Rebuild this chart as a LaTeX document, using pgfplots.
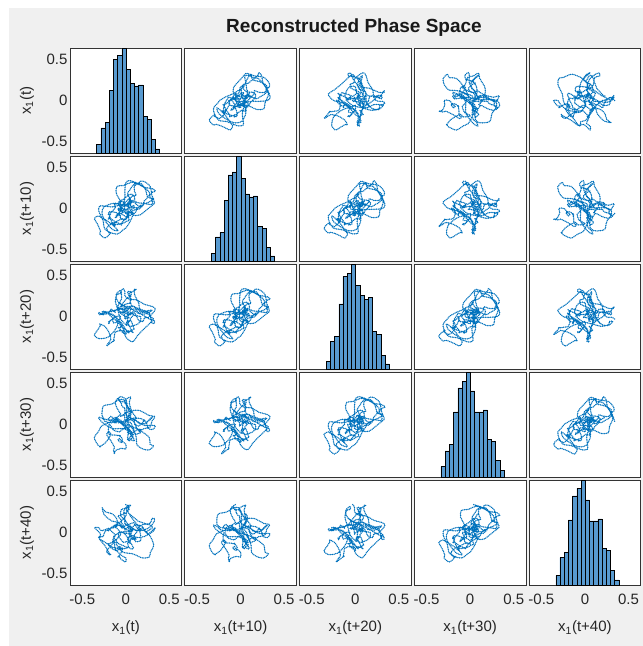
\documentclass[border=0pt]{standalone}
\usepackage{fontspec}
\setmainfont{Liberation Sans}
\usepackage{pgfplots}
\usepackage{pgfplotstable}
\pgfplotsset{compat=1.18}
\definecolor{mblue}{RGB}{0,114,189}
\definecolor{hblue}{RGB}{88,154,208}
\definecolor{figgray}{RGB}{240,240,240}
\definecolor{tickgray}{RGB}{38,38,38}

% columns: x1(t), x1(t+10), x1(t+20), x1(t+30), x1(t+40)
\pgfplotstableread{
a b c d e
0.00 -0.06 -0.03 0.04 0.34
0.04 -0.09 -0.01 0.13 0.31
0.02 -0.05 -0.01 0.21 0.26
0.00 -0.05 0.00 0.31 0.24
-0.06 -0.03 0.04 0.34 0.21
-0.09 -0.01 0.13 0.31 0.20
-0.05 -0.01 0.21 0.26 0.15
-0.05 0.00 0.31 0.24 0.12
-0.03 0.04 0.34 0.21 0.09
-0.01 0.13 0.31 0.20 0.04
-0.01 0.21 0.26 0.15 -0.01
0.00 0.31 0.24 0.12 -0.01
0.04 0.34 0.21 0.09 -0.02
0.13 0.31 0.20 0.04 -0.06
0.21 0.26 0.15 -0.01 -0.05
0.31 0.24 0.12 -0.01 0.01
0.34 0.21 0.09 -0.02 0.06
0.31 0.20 0.04 -0.06 0.03
0.26 0.15 -0.01 -0.05 -0.02
0.24 0.12 -0.01 0.01 -0.01
0.21 0.09 -0.02 0.06 0.04
0.20 0.04 -0.06 0.03 0.06
0.15 -0.01 -0.05 -0.02 0.04
0.12 -0.01 0.01 -0.01 0.07
0.09 -0.02 0.06 0.04 0.12
0.04 -0.06 0.03 0.06 0.10
-0.01 -0.05 -0.02 0.04 0.10
-0.01 0.01 -0.01 0.07 0.15
-0.02 0.06 0.04 0.12 0.16
-0.06 0.03 0.06 0.10 0.21
-0.05 -0.02 0.04 0.10 0.28
0.01 -0.01 0.07 0.15 0.30
0.06 0.04 0.12 0.16 0.33
0.03 0.06 0.10 0.21 0.33
-0.02 0.04 0.10 0.28 0.27
-0.01 0.07 0.15 0.30 0.16
0.04 0.12 0.16 0.33 0.08
0.06 0.10 0.21 0.33 0.06
0.04 0.10 0.28 0.27 0.01
0.07 0.15 0.30 0.16 -0.08
0.12 0.16 0.33 0.08 -0.08
0.10 0.21 0.33 0.06 -0.05
0.10 0.28 0.27 0.01 -0.03
0.15 0.30 0.16 -0.08 0.04
0.16 0.33 0.08 -0.08 0.08
0.21 0.33 0.06 -0.05 0.10
0.28 0.27 0.01 -0.03 0.11
0.30 0.16 -0.08 0.04 0.17
0.33 0.08 -0.08 0.08 0.17
0.33 0.06 -0.05 0.10 0.14
0.27 0.01 -0.03 0.11 0.06
0.16 -0.08 0.04 0.17 0.02
0.08 -0.08 0.08 0.17 0.04
0.06 -0.05 0.10 0.14 0.01
0.01 -0.03 0.11 0.06 0.01
-0.08 0.04 0.17 0.02 0.00
-0.08 0.08 0.17 0.04 -0.06
-0.05 0.10 0.14 0.01 -0.09
-0.03 0.11 0.06 0.01 -0.12
0.04 0.17 0.02 0.00 -0.10
0.08 0.17 0.04 -0.06 -0.06
0.10 0.14 0.01 -0.09 -0.06
0.11 0.06 0.01 -0.12 -0.11
0.17 0.02 0.00 -0.10 -0.10
0.17 0.04 -0.06 -0.06 -0.03
0.14 0.01 -0.09 -0.06 0.08
0.06 0.01 -0.12 -0.11 0.19
0.02 0.00 -0.10 -0.10 0.27
0.04 -0.06 -0.06 -0.03 0.28
0.01 -0.09 -0.06 0.08 0.32
0.01 -0.12 -0.11 0.19 0.27
0.00 -0.10 -0.10 0.27 0.20
-0.06 -0.06 -0.03 0.28 0.13
-0.09 -0.06 0.08 0.32 0.12
-0.12 -0.11 0.19 0.27 0.08
-0.10 -0.10 0.27 0.20 0.05
-0.06 -0.03 0.28 0.13 0.00
-0.06 0.08 0.32 0.12 -0.03
-0.11 0.19 0.27 0.08 -0.09
-0.10 0.27 0.20 0.05 -0.16
-0.03 0.28 0.13 0.00 -0.24
0.08 0.32 0.12 -0.03 -0.26
0.19 0.27 0.08 -0.09 -0.31
0.27 0.20 0.05 -0.16 -0.30
0.28 0.13 0.00 -0.24 -0.25
0.32 0.12 -0.03 -0.26 -0.15
0.27 0.08 -0.09 -0.31 -0.03
0.20 0.05 -0.16 -0.30 0.03
0.13 0.00 -0.24 -0.25 0.03
0.12 -0.03 -0.26 -0.15 0.02
0.08 -0.09 -0.31 -0.03 0.05
0.05 -0.16 -0.30 0.03 0.02
0.00 -0.24 -0.25 0.03 0.04
-0.03 -0.26 -0.15 0.02 0.07
-0.09 -0.31 -0.03 0.05 0.09
-0.16 -0.30 0.03 0.02 0.06
-0.24 -0.25 0.03 0.04 0.01
-0.26 -0.15 0.02 0.07 -0.05
-0.31 -0.03 0.05 0.09 -0.05
-0.30 0.03 0.02 0.06 -0.08
-0.25 0.03 0.04 0.01 -0.11
-0.15 0.02 0.07 -0.05 -0.18
-0.03 0.05 0.09 -0.05 -0.20
0.03 0.02 0.06 -0.08 -0.18
0.03 0.04 0.01 -0.11 -0.17
0.02 0.07 -0.05 -0.18 -0.12
0.05 0.09 -0.05 -0.20 -0.13
0.02 0.06 -0.08 -0.18 -0.08
0.04 0.01 -0.11 -0.17 -0.05
0.07 -0.05 -0.18 -0.12 0.01
0.09 -0.05 -0.20 -0.13 0.05
0.06 -0.08 -0.18 -0.08 0.06
0.01 -0.11 -0.17 -0.05 0.09
-0.05 -0.18 -0.12 0.01 0.05
-0.05 -0.20 -0.13 0.05 0.07
-0.08 -0.18 -0.08 0.06 0.09
-0.11 -0.17 -0.05 0.09 0.10
-0.18 -0.12 0.01 0.05 0.05
-0.20 -0.13 0.05 0.07 0.02
-0.18 -0.08 0.06 0.09 0.04
-0.17 -0.05 0.09 0.10 0.02
-0.12 0.01 0.05 0.05 -0.03
-0.13 0.05 0.07 0.02 -0.07
-0.08 0.06 0.09 0.04 -0.14
-0.05 0.09 0.10 0.02 -0.15
0.01 0.05 0.05 -0.03 -0.18
0.05 0.07 0.02 -0.07 -0.19
0.06 0.09 0.04 -0.14 -0.20
0.09 0.10 0.02 -0.15 -0.19
0.05 0.05 -0.03 -0.18 -0.11
0.07 0.02 -0.07 -0.19 -0.06
0.09 0.04 -0.14 -0.20 -0.08
0.10 0.02 -0.15 -0.19 -0.04
0.05 -0.03 -0.18 -0.11 -0.05
0.02 -0.07 -0.19 -0.06 -0.09
0.04 -0.14 -0.20 -0.08 -0.07
0.02 -0.15 -0.19 -0.04 -0.06
-0.03 -0.18 -0.11 -0.05 0.00
-0.07 -0.19 -0.06 -0.09 0.00
-0.14 -0.20 -0.08 -0.07 -0.05
-0.15 -0.19 -0.04 -0.06 -0.12
-0.18 -0.11 -0.05 0.00 -0.13
-0.19 -0.06 -0.09 0.00 -0.14
-0.20 -0.08 -0.07 -0.05 -0.13
-0.19 -0.04 -0.06 -0.12 -0.17
-0.11 -0.05 0.00 -0.13 -0.22
-0.06 -0.09 0.00 -0.14 -0.19
-0.08 -0.07 -0.05 -0.13 -0.17
-0.04 -0.06 -0.12 -0.17 -0.19
-0.05 0.00 -0.13 -0.22 -0.24
-0.09 0.00 -0.14 -0.19 -0.30
-0.07 -0.05 -0.13 -0.17 -0.29
-0.06 -0.12 -0.17 -0.19 -0.32
0.00 -0.13 -0.22 -0.24 -0.36
0.00 -0.14 -0.19 -0.30 -0.31
-0.05 -0.13 -0.17 -0.29 -0.28
-0.12 -0.17 -0.19 -0.32 -0.20
-0.13 -0.22 -0.24 -0.36 -0.12
-0.14 -0.19 -0.30 -0.31 -0.09
-0.13 -0.17 -0.29 -0.28 -0.11
-0.17 -0.19 -0.32 -0.20 -0.16
-0.22 -0.24 -0.36 -0.12 -0.23
-0.19 -0.30 -0.31 -0.09 -0.27
-0.17 -0.29 -0.28 -0.11 -0.27
-0.19 -0.32 -0.20 -0.16 -0.25
-0.24 -0.36 -0.12 -0.23 -0.16
-0.30 -0.31 -0.09 -0.27 -0.08
-0.29 -0.28 -0.11 -0.27 -0.02
-0.32 -0.20 -0.16 -0.25 0.02
-0.36 -0.12 -0.23 -0.16 0.06
-0.31 -0.09 -0.27 -0.08 0.06
-0.28 -0.11 -0.27 -0.02 0.02
-0.20 -0.16 -0.25 0.02 0.05
-0.12 -0.23 -0.16 0.06 0.06
-0.09 -0.27 -0.08 0.06 0.10
-0.11 -0.27 -0.02 0.02 0.18
-0.16 -0.25 0.02 0.05 0.23
-0.23 -0.16 0.06 0.06 0.25
-0.27 -0.08 0.06 0.10 0.30
-0.27 -0.02 0.02 0.18 0.30
-0.25 0.02 0.05 0.23 0.22
-0.16 0.06 0.06 0.25 0.14
-0.08 0.06 0.10 0.30 0.12
-0.02 0.02 0.18 0.30 0.05
0.02 0.05 0.23 0.22 0.06
0.06 0.06 0.25 0.14 0.07
0.06 0.10 0.30 0.12 0.08
0.02 0.18 0.30 0.05 0.07
0.05 0.23 0.22 0.06 0.03
0.06 0.25 0.14 0.07 0.04
0.10 0.30 0.12 0.08 0.09
0.18 0.30 0.05 0.07 0.08
0.23 0.22 0.06 0.03 0.01
0.25 0.14 0.07 0.04 0.02
0.30 0.12 0.08 0.09 0.05
0.30 0.05 0.07 0.08 0.08
0.22 0.06 0.03 0.01 0.11
0.14 0.07 0.04 0.02 0.14
0.12 0.08 0.09 0.05 0.16
0.05 0.07 0.08 0.08 0.22
0.06 0.03 0.01 0.11 0.23
}\ps

\pgfplotsset{
  pm/.style={scale only axis, width=111.5pt, height=105pt, anchor=north west,
    xmin=-0.64, xmax=0.64, ymin=-0.64, ymax=0.64,
    xtick={-0.5,0,0.5}, ytick={-0.5,0,0.5},
    xticklabels={}, yticklabels={},
    major tick length=0pt,
    axis line style={draw=black!80, line width=0.8pt},
    axis background/.style={fill=white},
    tick label style={font=\fontsize{15}{17}\selectfont, text=tickgray},
    xticklabel style={yshift=-5pt},
    yticklabel style={xshift=1pt},
  },
  pmleft/.style={yticklabels={-0.5,0,0.5}},
  pmbottom/.style={xticklabels={-0.5,0,0.5}},
  hist/.style={ymin=0, ymax=100, ytick={10.94,50,89.06}},
  sc/.style={no marks, color=mblue, line width=1.5pt, line cap=round, dash pattern=on 0pt off 1.7pt, smooth, tension=0.5},
  hb/.style={ybar interval, fill=hblue, draw=black, line width=0.5pt},
}

\begin{document}
\begin{tikzpicture}
\fill[white] (0pt,0pt) rectangle (643pt,-646pt);
\fill[figgray] (9pt,-8pt) rectangle (643pt,-646pt);
\node[font=\fontsize{19}{22}\selectfont\bfseries, text=black!90] at (354pt,-28pt) {Reconstructed Phase Space};

% Row 1 (y = x1(t))
\begin{axis}[pm, pmleft, hist, at={(70pt,-48pt)}]
\addplot[hb] coordinates {(-0.335,8) (-0.287,24) (-0.238,29) (-0.190,60) (-0.142,89) (-0.093,93) (-0.045,100) (0.003,80) (0.052,66) (0.100,64) (0.148,65) (0.197,35) (0.245,32) (0.293,13) (0.342,4) (0.390,4)};
\end{axis}
\begin{axis}[pm, at={(184.8pt,-48pt)}]
\addplot[sc] table[x=b,y=a]{\ps};
\end{axis}
\begin{axis}[pm, at={(299.6pt,-48pt)}]
\addplot[sc] table[x=c,y=a]{\ps};
\end{axis}
\begin{axis}[pm, at={(414.4pt,-48pt)}]
\addplot[sc] table[x=d,y=a]{\ps};
\end{axis}
\begin{axis}[pm, at={(529.2pt,-48pt)}]
\addplot[sc] table[x=e,y=a]{\ps};
\end{axis}

% Row 2 (y = x1(t+10))
\begin{axis}[pm, pmleft, at={(70pt,-156pt)}]
\addplot[sc] table[x=a,y=b]{\ps};
\end{axis}
\begin{axis}[pm, hist, at={(184.8pt,-156pt)}]
\addplot[hb] coordinates {(-0.335,7) (-0.287,23) (-0.238,27) (-0.190,58) (-0.142,82) (-0.093,85) (-0.045,100) (0.003,79) (0.052,64) (0.100,61) (0.148,62) (0.197,33) (0.245,31) (0.293,13) (0.342,5) (0.390,5)};
\end{axis}
\begin{axis}[pm, at={(299.6pt,-156pt)}]
\addplot[sc] table[x=c,y=b]{\ps};
\end{axis}
\begin{axis}[pm, at={(414.4pt,-156pt)}]
\addplot[sc] table[x=d,y=b]{\ps};
\end{axis}
\begin{axis}[pm, at={(529.2pt,-156pt)}]
\addplot[sc] table[x=e,y=b]{\ps};
\end{axis}

% Row 3 (y = x1(t+20))
\begin{axis}[pm, pmleft, at={(70pt,-264pt)}]
\addplot[sc] table[x=a,y=c]{\ps};
\end{axis}
\begin{axis}[pm, at={(184.8pt,-264pt)}]
\addplot[sc] table[x=b,y=c]{\ps};
\end{axis}
\begin{axis}[pm, hist, at={(299.6pt,-264pt)}]
\addplot[hb] coordinates {(-0.335,7) (-0.287,26) (-0.238,31) (-0.190,62) (-0.142,88) (-0.093,91) (-0.045,100) (0.003,80) (0.052,70) (0.100,66) (0.148,68) (0.197,36) (0.245,33) (0.293,13) (0.342,5) (0.390,5)};
\end{axis}
\begin{axis}[pm, at={(414.4pt,-264pt)}]
\addplot[sc] table[x=d,y=c]{\ps};
\end{axis}
\begin{axis}[pm, at={(529.2pt,-264pt)}]
\addplot[sc] table[x=e,y=c]{\ps};
\end{axis}

% Row 4 (y = x1(t+30))
\begin{axis}[pm, pmleft, at={(70pt,-372pt)}]
\addplot[sc] table[x=a,y=d]{\ps};
\end{axis}
\begin{axis}[pm, at={(184.8pt,-372pt)}]
\addplot[sc] table[x=b,y=d]{\ps};
\end{axis}
\begin{axis}[pm, at={(299.6pt,-372pt)}]
\addplot[sc] table[x=c,y=d]{\ps};
\end{axis}
\begin{axis}[pm, hist, at={(414.4pt,-372pt)}]
\addplot[hb] coordinates {(-0.335,10) (-0.287,25) (-0.238,31) (-0.190,62) (-0.142,85) (-0.093,91) (-0.045,100) (0.003,82) (0.052,62) (0.100,62) (0.148,64) (0.197,36) (0.245,34) (0.293,16) (0.342,6) (0.390,6)};
\end{axis}
\begin{axis}[pm, at={(529.2pt,-372pt)}]
\addplot[sc] table[x=e,y=d]{\ps};
\end{axis}

% Row 5 (y = x1(t+40))
\begin{axis}[pm, pmleft, pmbottom, at={(70pt,-480pt)}]
\addplot[sc] table[x=a,y=e]{\ps};
\end{axis}
\begin{axis}[pm, pmbottom, at={(184.8pt,-480pt)}]
\addplot[sc] table[x=b,y=e]{\ps};
\end{axis}
\begin{axis}[pm, pmbottom, at={(299.6pt,-480pt)}]
\addplot[sc] table[x=c,y=e]{\ps};
\end{axis}
\begin{axis}[pm, pmbottom, at={(414.4pt,-480pt)}]
\addplot[sc] table[x=d,y=e]{\ps};
\end{axis}
\begin{axis}[pm, pmbottom, hist, at={(529.2pt,-480pt)}]
\addplot[hb] coordinates {(-0.335,9) (-0.287,26) (-0.238,31) (-0.190,62) (-0.142,85) (-0.093,92) (-0.045,100) (0.003,81) (0.052,61) (0.100,61) (0.148,63) (0.197,35) (0.245,33) (0.293,14) (0.342,5) (0.390,5)};
\end{axis}

% axis labels
\begin{scope}[every node/.style={font=\fontsize{15}{17}\selectfont, text=tickgray}]
\node at (125.75pt,-628pt) {x\textsubscript{1}(t)};
\node at (240.55pt,-628pt) {x\textsubscript{1}(t+10)};
\node at (355.35pt,-628pt) {x\textsubscript{1}(t+20)};
\node at (470.15pt,-628pt) {x\textsubscript{1}(t+30)};
\node at (584.95pt,-628pt) {x\textsubscript{1}(t+40)};
\node[rotate=90] at (27pt,-100.5pt) {x\textsubscript{1}(t)};
\node[rotate=90] at (27pt,-208.5pt) {x\textsubscript{1}(t+10)};
\node[rotate=90] at (27pt,-316.5pt) {x\textsubscript{1}(t+20)};
\node[rotate=90] at (27pt,-424.5pt) {x\textsubscript{1}(t+30)};
\node[rotate=90] at (27pt,-532.5pt) {x\textsubscript{1}(t+40)};
\end{scope}
\end{tikzpicture}
\end{document}
